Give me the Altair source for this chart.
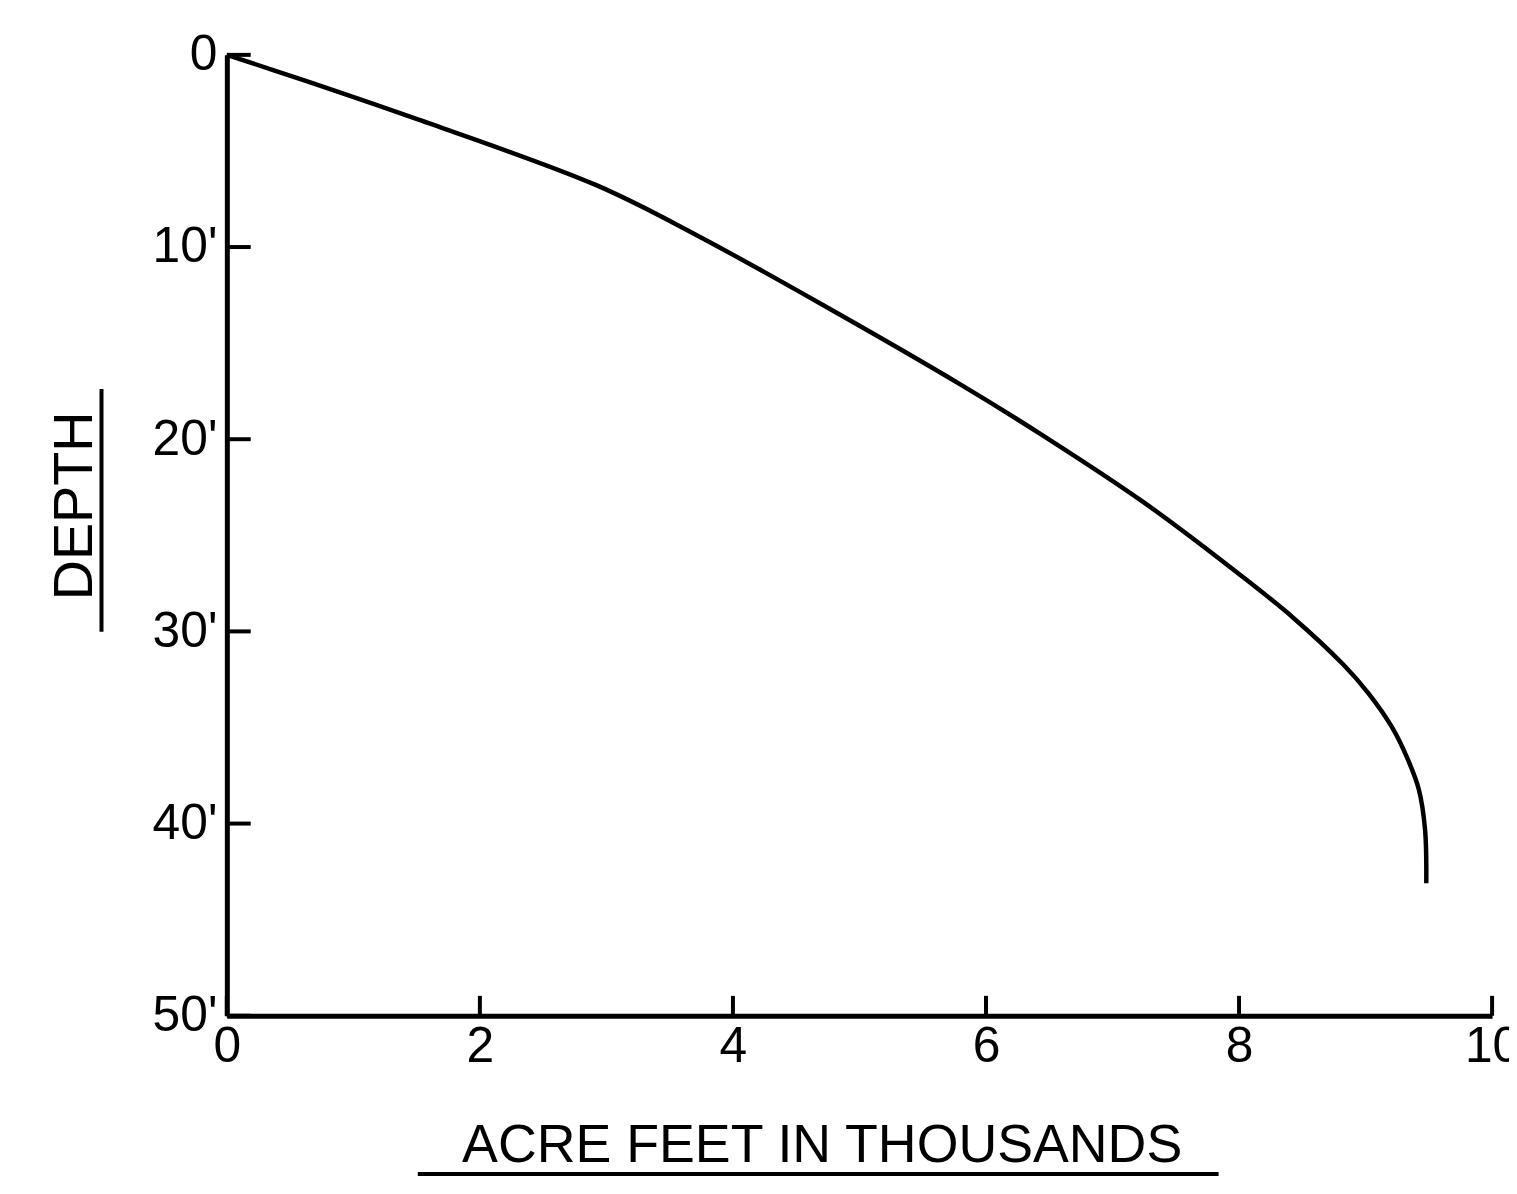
import altair as alt
import pandas as pd

# Curve (acre-feet in thousands vs depth in feet)
acre_feet = [0.0, 0.6, 1.51, 2.92, 3.71, 4.76, 5.81, 6.46, 7.25, 8.03, 8.43, 8.82, 9.02, 9.21, 9.33, 9.42, 9.47, 9.48]
depth = [0.0, 1.3, 3.36, 6.78, 9.37, 13.2, 17.2, 19.85, 23.3, 27.17, 29.3, 31.7, 33.2, 35.0, 36.6, 38.2, 40.3, 43.1]

x_ticks = [0, 2, 4, 6, 8, 10]
y_ticks = [0, 10, 20, 30, 40, 50]

curve = pd.DataFrame({"acre": acre_feet, "depth": depth, "idx": list(range(len(depth)))})
xt = pd.DataFrame({"acre": x_ticks})
yt = pd.DataFrame({"depth": y_ticks})

FONT = "Liberation Sans"
W, H = 1272, 966

xscale = alt.Scale(domain=[0, 10], nice=False, zero=False)
yscale = alt.Scale(domain=[0, 50], reverse=True, nice=False)

xaxis = alt.Axis(values=x_ticks, grid=False, ticks=False, tickSize=0,
                 domainColor="black", domainWidth=5,
                 labelFont=FONT, labelFontSize=50, labelColor="black",
                 labelPadding=6, labelFlush=False,
                 title="ACRE FEET IN THOUSANDS", titleFont=FONT,
                 titleFontSize=54, titleFontWeight="normal", titleColor="black",
                 titleX=598, titleY=147, titleBaseline="alphabetic",
                 titleAnchor="middle")
yaxis = alt.Axis(values=y_ticks, grid=False, ticks=False, tickSize=0,
                 domainColor="black", domainWidth=5,
                 labelFont=FONT, labelFontSize=50, labelColor="black",
                 labelPadding=10, labelFlush=False,
                 labelExpr="datum.value == 0 ? '0' : datum.value + \"'\"",
                 title="DEPTH", titleFont=FONT, titleFontSize=56,
                 titleFontWeight="normal", titleColor="black",
                 titleX=-153, titleY=453, titleBaseline="middle",
                 titleAngle=270)

line = alt.Chart(curve).mark_line(
    color="black", strokeWidth=4.5, interpolate="catmull-rom"
).encode(
    x=alt.X("acre:Q", scale=xscale, axis=xaxis),
    y=alt.Y("depth:Q", scale=yscale, axis=yaxis),
    order="idx:Q",
)

ytick_marks = alt.Chart(yt).mark_rule(color="black", strokeWidth=4).encode(
    y=alt.Y("depth:Q", scale=yscale, axis=yaxis),
    x=alt.value(0), x2=alt.value(24),
)

xtick_marks = alt.Chart(xt).mark_rule(color="black", strokeWidth=4).encode(
    x=alt.X("acre:Q", scale=xscale, axis=xaxis),
    y=alt.value(H), y2=alt.value(H - 20),
)

ul_y = alt.Chart(pd.DataFrame({"k": [0]})).mark_rule(color="black", strokeWidth=4).encode(
    x=alt.value(-126), y=alt.value(336), y2=alt.value(580),
)
ul_x = alt.Chart(pd.DataFrame({"k": [0]})).mark_rule(color="black", strokeWidth=4).encode(
    x=alt.value(192), x2=alt.value(997), y=alt.value(1125),
)

chart = alt.layer(line, ytick_marks, xtick_marks, ul_y, ul_x).properties(
    width=W, height=H,
    autosize=alt.AutoSizeParams(type="none"),
    padding={"left": 220, "top": 44, "right": 17, "bottom": 160},
    background="white",
).configure_view(stroke=None)

chart.save("out.html", embed_options={"renderer": "svg", "actions": False})
